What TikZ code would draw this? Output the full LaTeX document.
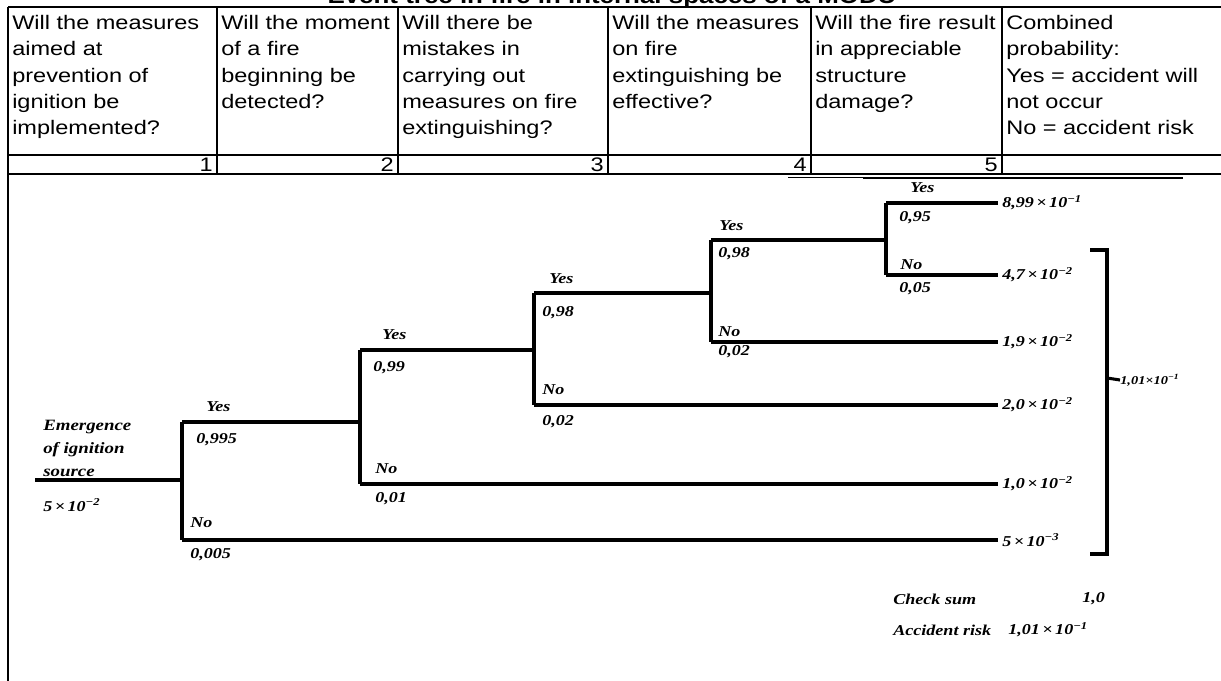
\documentclass[tikz,border=0pt]{standalone}
\usepackage{fontspec}
\setmainfont{Liberation Sans}[FakeStretch=1.2]
\newfontfamily\treefont{Liberation Serif}[FakeStretch=1.2]

\tikzset{
  grid/.style={line width=1.3pt},
  branch/.style={line width=2.3pt},
  head/.style={anchor=north west, align=left, inner sep=0pt,
    font=\fontsize{14.7}{19.7}\selectfont},
  num/.style={anchor=east, inner sep=0pt, font=\fontsize{14.7}{17}\selectfont},
  lbl/.style={anchor=west, inner sep=0pt,
    font=\treefont\bfseries\itshape\fontsize{11.3}{13}\selectfont},
  res/.style={lbl, inner sep=3pt},
}

\begin{document}
\begin{tikzpicture}[x=0.75pt,y=-0.75pt]
  \useasboundingbox (0,0) rectangle (1221,681);
  \clip (0,0) rectangle (1221,681);
  % Title, cut at the top edge
  \node[anchor=base, font=\bfseries\fontsize{16.2}{19}\selectfont] (title) at (612,4)
    {Event tree in fire in internal spaces of a MODU};
  % Table lines
  \draw[grid] (8,7) -- (1221,7);
  \draw[grid] (8,155) -- (1221,155);
  \draw[grid] (8,174) -- (1221,174);
  \draw[grid] (8,7) -- (8,681);
  \foreach \x in {217,398,608,811,1002}
    \draw[grid] (\x,7) -- (\x,174);
  % Stray line under the table
  \draw[line width=0.6pt] (788,177) -- (863,177);
  \draw[line width=2pt] (863,178) -- (1183,178);
  % Column questions
  \node[head] (q1) at (12,15) {Will the measures\\aimed at\\prevention of\\ignition be\\implemented?};
  \node[head] (q2) at (221,15) {Will the moment\\of a fire\\beginning be\\detected?};
  \node[head] (q3) at (402,15) {Will there be\\mistakes in\\carrying out\\measures on fire\\extinguishing?};
  \node[head] (q4) at (612,15) {Will the measures\\on fire\\extinguishing be\\effective?};
  \node[head] (q5) at (815,15) {Will the fire result\\in appreciable\\structure\\damage?};
  \node[head] (q6) at (1006,15) {Combined\\probability:\\Yes = accident will\\not occur\\No = accident risk};
  % Column numbers
  \foreach \x/\n in {217/1,398/2,608/3,811/4,1002/5}
    \node[num] (n\n) at (\x-4,165) {\n};
  % Initiating event
  \node[lbl, anchor=north west, align=left, font=\treefont\bfseries\itshape\fontsize{11.8}{17.3}\selectfont]
    (source) at (43,420) {Emergence\\of ignition\\source};
  \node[lbl] (p0) at (43,505) {5\,×\,10\textsuperscript{−2}};
  \coordinate (start) at (35,480);
  % Fork points
  \coordinate (a1) at (182,422); \coordinate (a2) at (182,540);
  \coordinate (b1) at (360,350); \coordinate (b2) at (360,484);
  \coordinate (c1) at (534,293); \coordinate (c2) at (534,405);
  \coordinate (d1) at (711,240); \coordinate (d2) at (711,342);
  \coordinate (e1) at (886,203); \coordinate (e2) at (886,275);
  % Outcome probabilities
  \node[res] (r1) at (998,203) {8,99\,×\,10\textsuperscript{−1}};
  \node[res] (r2) at (998,275) {4,7\,×\,10\textsuperscript{−2}};
  \node[res] (r3) at (998,342) {1,9\,×\,10\textsuperscript{−2}};
  \node[res] (r4) at (998,405) {2,0\,×\,10\textsuperscript{−2}};
  \node[res] (r5) at (998,484) {1,0\,×\,10\textsuperscript{−2}};
  \node[res] (r6) at (998,540) {5\,×\,10\textsuperscript{−3}};
  % Branches
  \draw[branch] (start) -- (start -| a1);
  \draw[branch] (a1) -- (a2);
  \draw[branch] (a1) -- (a1 -| b1);
  \draw[branch] (a2) -- (r6.west);
  \draw[branch] (b1) -- (b2);
  \draw[branch] (b1) -- (b1 -| c1);
  \draw[branch] (b2) -- (r5.west);
  \draw[branch] (c1) -- (c2);
  \draw[branch] (c1) -- (c1 -| d1);
  \draw[branch] (c2) -- (r4.west);
  \draw[branch] (d1) -- (d2);
  \draw[branch] (d1) -- (d1 -| e1);
  \draw[branch] (d2) -- (r3.west);
  \draw[branch] (e1) -- (e2);
  \draw[branch] (e1) -- (r1.west);
  \draw[branch] (e2) -- (r2.west);
  % Branch labels
  \node[lbl] (ya) at (206,407) {Yes};  \node[lbl] (pya) at (196,440) {0,995};
  \node[lbl] (na) at (190,523) {No};   \node[lbl] (pna) at (190,555) {0,005};
  \node[lbl] (yb) at (382,335) {Yes};  \node[lbl] (pyb) at (373,368) {0,99};
  \node[lbl] (nb) at (375,469) {No};   \node[lbl] (pnb) at (375,499) {0,01};
  \node[lbl] (yc) at (549,279) {Yes};  \node[lbl] (pyc) at (542,313) {0,98};
  \node[lbl] (nc) at (542,390) {No};   \node[lbl] (pnc) at (542,422) {0,02};
  \node[lbl] (yd) at (719,226) {Yes};  \node[lbl] (pyd) at (718,254) {0,98};
  \node[lbl] (nd) at (718,332) {No};   \node[lbl] (pnd) at (718,352) {0,02};
  \node[lbl] (ye) at (910,188) {Yes};  \node[lbl] (pye) at (899,218) {0,95};
  \node[lbl] (ne) at (900,265) {No};   \node[lbl] (pne) at (899,289) {0,05};
  % Bracket over the accident outcomes
  \coordinate (bt) at (1107,250); \coordinate (bb) at (1107,554);
  \coordinate (tick) at (1107,378);
  \draw[branch] (1090,250) -- (bt) -- (bb) -- (1090,554);
  \node[lbl, font=\treefont\bfseries\itshape\fontsize{9}{11}\selectfont] (risk) at (1120,380)
    {1,01×10\textsuperscript{−1}};
  \draw[branch] (tick) -- (risk.west);
  % Totals
  \node[lbl] (chk) at (893,599) {Check sum};
  \node[lbl] (chkv) at (1082,599) {1,0};
  \node[lbl] (acc) at (893,630) {Accident risk};
  \node[lbl] (accv) at (1008,630) {1,01\,×\,10\textsuperscript{−1}};
\end{tikzpicture}
\end{document}
